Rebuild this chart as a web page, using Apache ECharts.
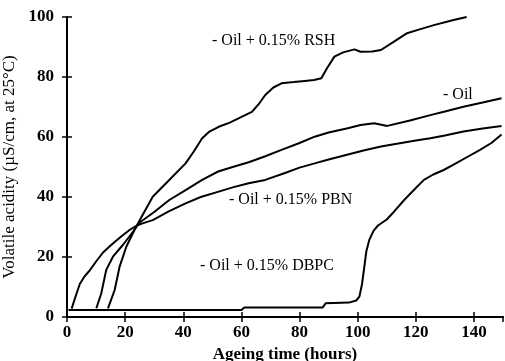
<!DOCTYPE html>
<html>
<head>
<meta charset="utf-8">
<script src="https://cdn.jsdelivr.net/npm/echarts@6/dist/echarts.min.js"></script>
<style>
  html, body { margin: 0; padding: 0; background: #fff; }
</style>
</head>
<body>
<div id="chart" style="width:505px;height:361px;"></div>
<script>
// values: [hours, µS/cm]
var rsh = [[14.1,2.9],[16.4,9],[18.1,16.8],[20.4,23.4],[23.2,29],[26,34],[29.5,40.1],[35,45.5],[40.8,51.2],[43.5,55],[46.5,59.6],[49,61.8],[52.2,63.4],[56,64.8],[59,66.2],[63.6,68.4],[66,71],[68.2,74],[71,76.5],[73.8,77.9],[78,78.3],[81.8,78.7],[85,79],[87.5,79.6],[89.5,83],[92,86.8],[95,88.2],[98.9,89.2],[101,88.4],[105,88.5],[108,89],[112.5,91.8],[117,94.6],[121,95.8],[126.2,97.3],[133,99],[137.5,100]];
var oil = [[10.1,2.9],[11.8,7.9],[13.5,15.7],[15.8,20.1],[19.2,24],[22,27.5],[25,31.5],[30,35],[35.2,39],[40.8,42.3],[46.5,45.7],[52,48.5],[57,50],[62.5,51.6],[68,53.5],[73.8,55.7],[80,58],[85.2,60.1],[90,61.5],[96.6,62.9],[101,64],[105.7,64.6],[110.2,63.7],[118,65.5],[125,67.3],[130,68.5],[136.4,70.1],[143,71.5],[149.5,72.9]];
var pbn = [[1.6,2.8],[3,7],[4.4,11],[6,13.5],[7.8,15.5],[10,18.5],[12.4,21.5],[15,23.8],[17,25.5],[19.5,27.5],[21.5,29],[24,30.5],[26,31.2],[29.5,32.3],[35,35.2],[40.8,37.9],[46,40],[52.2,41.8],[57,43.2],[62.5,44.6],[68.2,45.7],[75,48],[80,49.8],[85.2,51.2],[90,52.5],[96,54],[102,55.5],[108,56.8],[115,58],[120,58.8],[125,59.6],[130,60.5],[136.4,61.8],[143,62.8],[149.5,63.7]];
var dbpc = [[0.5,2.3],[60,2.3],[61,3.2],[88,3.2],[89,4.6],[97,4.8],[99.5,5.5],[100.6,6.8],[101.5,11],[102.3,16.8],[103,22],[104,25.7],[105.5,28.8],[107,30.5],[110,32.5],[112.5,35.1],[116,39],[120,43],[122.8,45.7],[126,47.5],[129.6,49],[133,50.8],[138,53.5],[142.1,55.7],[146,58],[149.5,60.8]];

var xTitle = 'Ageing time (hours)';
var yTitle = 'Volatile acidity (\u00b5S/cm, at 25\u00b0C)';

var serif = '"Liberation Serif", "DejaVu Serif", serif';

var myChart = echarts.init(document.getElementById('chart'));

function line(name, data) {
  return {
    name: name,
    type: 'line',
    data: data,
    showSymbol: false,
    lineStyle: { color: '#000', width: 2 },
    animation: false
  };
}

var axisLine = { show: true, lineStyle: { color: '#000', width: 2 } };
var tick = { show: true, inside: true, length: 5, lineStyle: { color: '#000', width: 1.5 } };

var option = {
  backgroundColor: '#fff',
  grid: { left: 67, right: 2, top: 17, bottom: 44, outerBoundsMode: 'none' },
  xAxis: [
    {
      type: 'value', min: 0, max: 150, interval: 20,
      name: xTitle, nameLocation: 'middle', nameGap: 26,
      nameTextStyle: { fontFamily: serif, fontSize: 17, fontWeight: 'bold', color: '#000' },
      axisLine: axisLine, axisTick: tick, splitLine: { show: false },
      axisLabel: { color: '#000', fontFamily: serif, fontSize: 17, fontWeight: 'bold', margin: 7, showMaxLabel: false }
    },
    {
      type: 'value', min: 0, max: 150, interval: 20, position: 'top',
      axisLine: axisLine, axisTick: tick, splitLine: { show: false }, axisLabel: { show: false }
    }
  ],
  yAxis: [
    {
      type: 'value', min: 0, max: 100, interval: 20,
      name: yTitle, nameLocation: 'middle', nameGap: 41,
      nameTextStyle: { fontFamily: serif, fontSize: 17, color: '#000' },
      axisLine: axisLine, axisTick: tick, splitLine: { show: false },
      axisLabel: { color: '#000', fontFamily: serif, fontSize: 17, fontWeight: 'bold', margin: 13 }
    },
    {
      type: 'value', min: 0, max: 100, interval: 20, position: 'right',
      axisLine: axisLine, axisTick: tick, splitLine: { show: false }, axisLabel: { show: false }
    }
  ],
  graphic: [
    { type: 'text', left: 212, top: 33, style: { text: '- Oil + 0.15% RSH', font: '16px ' + serif, fill: '#000' } },
    { type: 'text', left: 443, top: 87, style: { text: '- Oil', font: '16px ' + serif, fill: '#000' } },
    { type: 'text', left: 229, top: 192, style: { text: '- Oil + 0.15% PBN', font: '16px ' + serif, fill: '#000' } },
    { type: 'text', left: 200, top: 258, style: { text: '- Oil + 0.15% DBPC', font: '16px ' + serif, fill: '#000' } }
  ],
  series: [
    line('Oil + 0.15% RSH', rsh),
    line('Oil', oil),
    line('Oil + 0.15% PBN', pbn),
    line('Oil + 0.15% DBPC', dbpc)
  ]
};
myChart.setOption(option);
</script>
</body>
</html>
